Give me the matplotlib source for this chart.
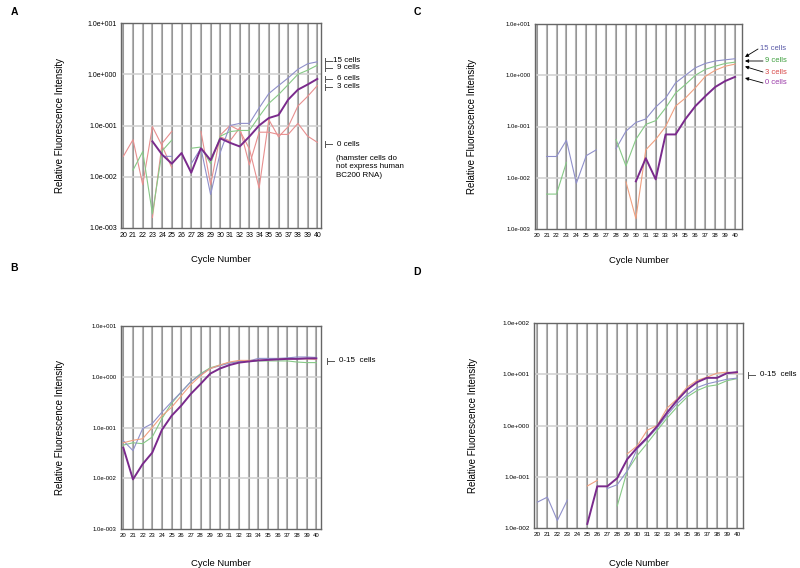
import numpy as np
import matplotlib
matplotlib.use('Agg')
import matplotlib.pyplot as plt
from matplotlib.lines import Line2D

plt.rcParams['font.family'] = ['Liberation Sans', 'DejaVu Sans']

cycles = list(range(20, 41))

# panel A
a_15 = [None, None, None, None, 0.025, 0.025, None, 0.018, 0.036, 0.0045, 0.03,
        0.1, 0.11, 0.11, 0.22, 0.42, 0.6, 0.85, 1.25, 1.6, 1.75]
a_9 = [None, 0.0135, 0.031, 0.0019, 0.032, 0.052, None, 0.036, 0.038, 0.018, 0.062,
       0.076, 0.08, 0.08, 0.15, 0.27, 0.4, 0.63, 1.0, 1.2, 1.5]
a_6 = [None, None, None, 0.049, 0.027, 0.018, 0.029, 0.012, 0.036, 0.021, 0.056,
       0.046, 0.039, 0.061, 0.1, 0.14, 0.16, 0.32, 0.5, 0.63, 0.81]
a_3 = [None, None, None, 0.0016, 0.045, 0.077, None, None, 0.077, 0.007, 0.065,
       0.1, 0.08, 0.035, 0.006, 0.13, 0.06, 0.095, 0.24, 0.37, 0.6]
a_0 = [0.025, 0.053, 0.007, 0.095, 0.04, 0.015, None, None, None, None, 0.06,
       0.05, 0.09, 0.017, 0.074, 0.074, 0.067, 0.067, 0.11, 0.062, 0.047]

# panel B
b_15 = [0.055, 0.035, 0.095, 0.12, 0.2, 0.32, 0.5, 0.8, 1.1, 1.45, 1.65,
        1.85, 2.0, 2.05, 2.3, 2.3, 2.3, 2.35, 2.45, 2.45, 2.4]
b_9 = [0.045, 0.05, 0.048, 0.065, 0.15, 0.3, 0.5, 0.8, 1.15, 1.5, 1.7,
       1.9, 2.0, 2.0, 2.05, 2.05, 2.05, 2.05, 1.95, 1.9, 1.9]
b_3 = [0.05, 0.056, 0.06, 0.1, 0.17, 0.25, 0.42, 0.7, 1.05, 1.45, 1.7,
       1.95, 2.1, 2.1, 2.1, 2.15, 2.2, 2.25, 2.25, 2.25, 2.2]
b_0 = [0.04, 0.0095, 0.019, 0.032, 0.09, 0.17, 0.27, 0.46, 0.72, 1.15, 1.45,
       1.7, 1.9, 2.0, 2.1, 2.15, 2.2, 2.25, 2.25, 2.3, 2.3]

# panel C
c_15 = [None, 0.026, 0.026, 0.054, 0.0078, 0.027, 0.035, None, 0.037, 0.081, 0.12,
        0.14, 0.24, 0.36, 0.71, 1.0, 1.4, 1.7, 1.9, 2.0, 2.1]
c_9 = [None, 0.0048, 0.0048, 0.02, None, None, None, None, 0.056, 0.017, 0.056,
       0.11, 0.13, 0.23, 0.45, 0.66, 1.0, 1.3, 1.5, 1.7, 1.8]
c_3 = [None, None, None, None, None, None, None, None, None, 0.0083, 0.0016,
       0.035, 0.056, 0.1, 0.25, 0.36, 0.57, 0.95, 1.25, 1.5, 1.65]
c_0 = [None, None, None, None, None, None, None, None, None, None, 0.0085,
       0.024, 0.0093, 0.07, 0.07, 0.14, 0.25, 0.39, 0.59, 0.77, 0.93]

# panel D
d_15 = [0.032, 0.04, 0.014, 0.035, None, None, None, 0.059, 0.07, 0.13, 0.35,
        0.55, 0.9, 1.6, 2.7, 4.0, 5.5, 6.5, 7.2, 8.0, 8.4]
d_9 = [None, None, None, None, None, None, None, None, 0.027, 0.13, 0.26,
       0.45, 0.8, 1.4, 2.3, 3.6, 4.8, 5.8, 6.2, 7.5, 8.2]
d_3 = [0.045, None, None, None, None, 0.066, 0.085, None, None, 0.28, 0.4,
       0.81, 1.0, 2.2, 3.3, 5.6, 7.6, 8.8, 10.5, 11.0, 10.5]
d_0 = [None, None, None, None, None, 0.012, 0.065, 0.065, 0.094, 0.22, 0.37,
       0.58, 0.97, 1.8, 3.1, 5.0, 7.0, 8.5, 8.5, 10.5, 11.0]

ytick_a = ['1.0e-003', '1.0e-002', '1.0e-001', '1.0e+000', '1.0e+001']
ytick_d = ['1.0e-002', '1.0e-001', '1.0e+000', '1.0e+001', '1.0e+002']

BLUE = '#8f8fca'
GREEN = '#86c986'
RED = '#e88f8f'
ORANGE = '#f0a080'
PURPLE = '#7a2a8c'

W, H = 800, 568
fig = plt.figure(figsize=(8, 5.68), dpi=100)


def px(x, y):
    return x / W, 1 - y / H


def make_ax(left, top, right, bottom, xlim, ylo, yhi, ylabels, tsize):
    ax = fig.add_axes([left / W, 1 - bottom / H, (right - left) / W, (bottom - top) / H])
    ax.set_yscale('log')
    ax.set_xlim(*xlim)
    ax.set_ylim(ylo, yhi)
    for c in cycles:
        ax.axvline(c, color='#b4b4b4', lw=1.5, zorder=0)
        ax.axvline(c, color='#8a8a8a', lw=0.5, zorder=0)
    decades = [ylo * 10 ** i for i in range(len(ylabels))]
    for d in decades[1:-1]:
        ax.axhline(d, color='#d2d2d2', lw=1.2, zorder=0)
    ax.set_yticks(decades)
    ax.set_yticklabels(ylabels)
    ax.yaxis.set_minor_locator(matplotlib.ticker.NullLocator())
    ax.set_xticks(cycles)
    ax.set_xticklabels([str(c) for c in cycles])
    ax.tick_params(length=0, labelsize=tsize, pad=3)
    for s in ax.spines.values():
        s.set_color('#666666')
        s.set_linewidth(1.0)
    ax.set_xlabel('Cycle Number', fontsize=6.8)
    ax.set_ylabel('Relative Fluorescence Intensity', fontsize=7)
    return ax


def series(ax, vals, color, lw=0.8):
    ax.plot(cycles, np.array(vals, dtype=float), color=color, lw=lw)


# A
axA = make_ax(121, 23, 321, 228, (19.76, 40.38), 1e-3, 1e1, ytick_a, 5)
series(axA, a_0, RED)
series(axA, a_3, RED)
series(axA, a_9, GREEN)
series(axA, a_15, BLUE)
series(axA, a_6, PURPLE, 1.4)
axA.xaxis.set_label_coords(0.5, -0.13)
axA.yaxis.set_label_coords(-0.28, 0.5)

# B
axB = make_ax(121, 326, 321, 529, (19.76, 40.48), 1e-3, 1e1, ytick_a, 4.3)
series(axB, b_9, GREEN)
series(axB, b_15, BLUE)
series(axB, b_3, ORANGE)
series(axB, b_0, PURPLE, 1.4)
axB.xaxis.set_label_coords(0.5, -0.148)
axB.yaxis.set_label_coords(-0.28, 0.5)

# C
axC = make_ax(535, 24, 742, 229, (19.83, 40.7), 1e-3, 1e1, ytick_a, 4.3)
series(axC, c_15, BLUE)
series(axC, c_9, GREEN)
series(axC, c_3, ORANGE)
series(axC, c_0, PURPLE, 1.4)
axC.xaxis.set_label_coords(0.5, -0.13)
axC.yaxis.set_label_coords(-0.28, 0.5)

# D
axD = make_ax(534, 323, 743, 528, (19.66, 40.6), 1e-2, 1e2, ytick_d, 4.6)
series(axD, d_9, GREEN)
series(axD, d_15, BLUE)
series(axD, d_3, ORANGE)
series(axD, d_0, PURPLE, 1.4)
axD.xaxis.set_label_coords(0.5, -0.15)
axD.yaxis.set_label_coords(-0.27, 0.5)

# panel letters
for letter, (x, y) in zip('ABCD', [(14, 12), (14, 268), (417, 12), (417, 272)]):
    fig.text(*px(x, y), letter, fontsize=7.5, fontweight='bold', ha='center', va='center')


def bracket(x, y, length=7):
    fig.add_artist(Line2D([x / W, x / W], [1 - (y - 3) / H, 1 - (y + 3) / H],
                          color='#555555', lw=0.7))
    fig.add_artist(Line2D([x / W, (x + length) / W], [1 - y / H, 1 - y / H],
                          color='#555555', lw=0.7))


# A labels
for txt, y in [('15 cells', 60.5), ('9 cells', 67.5), ('6 cells', 78.5), ('3 cells', 87), ('0 cells', 144)]:
    bracket(325, y)
    fig.text(*px(360, y), txt, fontsize=5.8, ha='right', va='center')
fig.text(*px(336, 167), '(hamster cells do\nnot express human\nBC200 RNA)',
         fontsize=5.8, ha='left', va='center', linespacing=1.25)

# B and D labels
bracket(327, 361)
fig.text(*px(339, 361), '0-15  cells', fontsize=5.8, ha='left', va='center')
bracket(748, 375)
fig.text(*px(760, 375), '0-15  cells', fontsize=5.8, ha='left', va='center')

# C labels with arrows
for txt, col, ty, tip in [('15 cells', '#5a5aa8', 49, (745, 57)),
                          ('9 cells', '#3f9f3f', 61, (745, 61)),
                          ('3 cells', '#d84848', 72, (745, 66.5)),
                          ('0 cells', '#9a3aa8', 83, (745, 78))]:
    tx = 760 if txt == '15 cells' else 765
    fig.text(*px(tx, ty), txt, fontsize=5.5, color=col, ha='left', va='center')
    axC.annotate('', xy=px(*tip), xycoords='figure fraction',
                 xytext=px(tx - 2, ty), textcoords='figure fraction',
                 arrowprops=dict(arrowstyle='-|>', color='black', lw=0.6,
                                 mutation_scale=5, shrinkA=0, shrinkB=0),
                 annotation_clip=False)

fig.savefig('out.png', dpi=100)
